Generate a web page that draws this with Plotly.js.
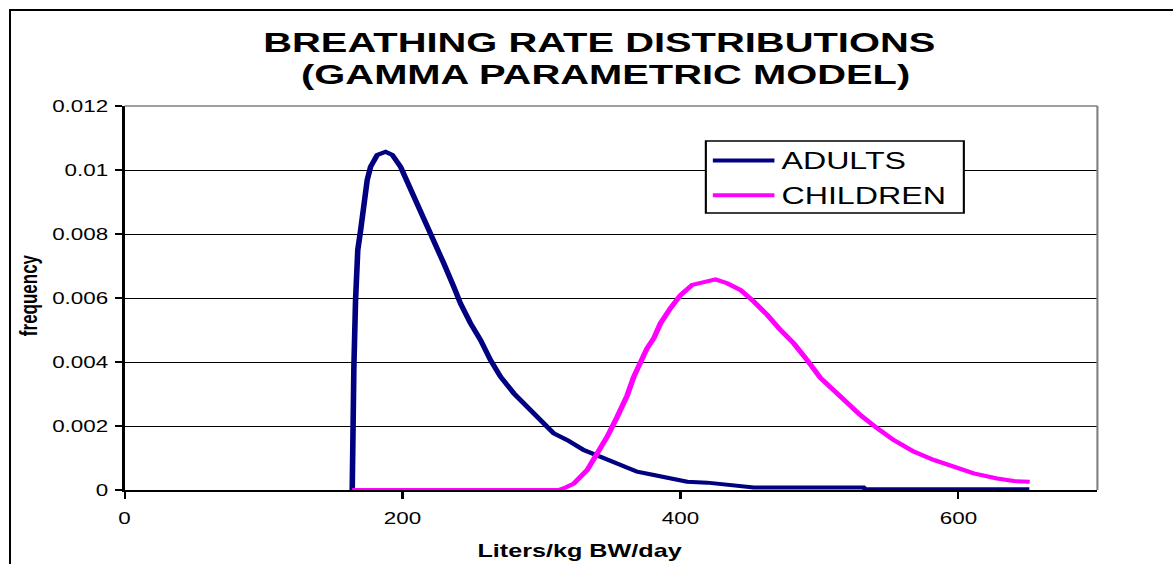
<!DOCTYPE html>
<html>
<head>
<meta charset="utf-8">
<script src="https://cdn.plot.ly/plotly-3.0.1.min.js"></script>
<style>
  html, body { margin:0; padding:0; overflow:hidden; background:#fff; width:1173px; height:564px; }
  #wrap { position:absolute; left:0; top:0; width:838px; height:564px; transform:scaleX(1.39976); transform-origin:0 0; }
  #plot { width:838px; height:564px; }
  #frame { position:absolute; left:9px; top:9px; width:3000px; height:3000px; border-left:2.5px solid #000; border-top:2.5px solid #000; pointer-events:none; }
</style>
</head>
<body>
<div id="wrap"><div id="plot"></div></div>
<div id="frame"></div>
<script>
// ---- data ----
const adultsX = [163.8,163.9,165.0,166.2,167.8,169.8,172.2,174.6,177.0,181.8,187.8,192.6,198.6,205.8,213.0,220.1,229.7,236.9,241.7,248.9,256.1,263.3,270.5,280.1,289.7,299.3,308.8,318.5,330.4,342.4,354.5,368.8,380.8,392.8,404.8,419.2,436.8,452.7,492.0,531.7,533.0,651.0];
const adultsY = [0,0.0019,0.00385,0.00594,0.0075,0.0081,0.00885,0.00969,0.0101,0.01047,0.01057,0.01047,0.0101,0.0094,0.00875,0.0081,0.00708,0.00635,0.00583,0.00521,0.00469,0.00406,0.00354,0.00302,0.0026,0.00219,0.00177,0.00156,0.00125,0.00104,0.00083,0.00057,0.00047,0.00036,0.00026,0.00023,0.00016,0.00008,0.00008,0.00008,0.00002,0.00002];

const childrenX = [163.8,312.0,316.0,323.2,332.9,340.1,347.3,354.5,361.6,366.4,371.2,376.0,380.8,385.6,392.8,400.0,408.4,416.8,425.2,433.6,443.2,452.7,462.4,471.9,481.5,491.1,500.7,515.1,529.5,541.5,553.4,567.8,582.2,596.6,611.0,627.8,639.8,651.3];
const childrenY = [0,0,0.00005,0.0002,0.000625,0.00115,0.00167,0.00229,0.00295,0.00354,0.00396,0.00443,0.00474,0.00521,0.00568,0.00609,0.00641,0.00651,0.00658,0.00646,0.00625,0.00589,0.00547,0.005,0.00458,0.00406,0.0035,0.00292,0.00234,0.00193,0.00156,0.0012,0.00094,0.00073,0.00052,0.00036,0.00028,0.00026];

const seriesNames = ['ADULTS', 'CHILDREN'];
const yTickVals = [0, 0.002, 0.004, 0.006, 0.008, 0.01, 0.012];
const yTickText = ['0', '0.002', '0.004', '0.006', '0.008', '0.01', '0.012'];
const xTickVals = [0, 200, 400, 600];
const xTickText = ['0', '200', '400', '600'];
const titleLines = ['BREATHING RATE DISTRIBUTIONS', '(GAMMA PARAMETRIC MODEL)'];
const xTitle = 'Liters/kg BW/day';
const yTitle = 'frequency';

const FONT = 'Liberation Sans, Arial, sans-serif';

const traces = [
  { x: adultsX, y: adultsY, name: seriesNames[0], type: 'scatter', mode: 'lines',
    line: { color: '#000080', width: 4 }, legendgroup: 'a' },
  { x: childrenX, y: childrenY, name: seriesNames[1], type: 'scatter', mode: 'lines',
    line: { color: '#FF00FF', width: 4 }, legendgroup: 'c' }
];

const layout = {
  width: 838, height: 564,
  margin: { l: 89, r: 54, t: 106, b: 74 },
  paper_bgcolor: '#fff', plot_bgcolor: '#fff',
  font: { family: FONT, color: '#000' },
  showlegend: true,
  legend: {
    x: 0.5975, y: 0.914, xanchor: 'left', yanchor: 'top',
    bgcolor: 'rgba(0,0,0,0)', bordercolor: 'rgba(0,0,0,0)', borderwidth: 0,
    font: { family: FONT, size: 23, color: '#000' },
    traceorder: 'grouped', tracegroupgap: 2, itemwidth: 44
  },
  xaxis: {
    range: [0, 700], tickmode: 'array', tickvals: xTickVals, ticktext: xTickText,
    ticks: 'outside', ticklen: 7, tickwidth: 1.5, tickcolor: '#000',
    ticklabelstandoff: 6,
    showline: true, linecolor: '#000', linewidth: 1.5,
    showgrid: false, zeroline: false,
    tickfont: { family: FONT, size: 16, color: '#000' }
  },
  yaxis: {
    range: [0, 0.012], tickmode: 'array', tickvals: yTickVals, ticktext: yTickText,
    ticks: 'outside', ticklen: 5, tickwidth: 1.3, tickcolor: '#000',
    ticklabelstandoff: 2,
    showline: true, linecolor: '#000', linewidth: 1.5,
    showgrid: true, gridcolor: '#000', gridwidth: 1, zeroline: false,
    tickfont: { family: FONT, size: 16, color: '#000' }
  },
  shapes: [
    { type: 'line', xref: 'paper', yref: 'paper', x0: 0, x1: 1, y0: 1, y1: 1,
      line: { color: '#808080', width: 1.5 }, layer: 'above' },
    { type: 'line', xref: 'paper', yref: 'paper', x0: 1, x1: 1, y0: 0, y1: 1,
      line: { color: '#808080', width: 1.5 }, layer: 'above' },
    // legend frame
    { type: 'rect', xref: 'paper', yref: 'paper', x0: 0.5975, x1: 0.8627, y0: 0.7214, y1: 0.9089,
      fillcolor: '#fff', line: { color: '#000', width: 1.5 }, layer: 'above' }
  ],
  annotations: [
    { text: '<b>' + titleLines[0] + '</b>', xref: 'paper', yref: 'paper', x: 0.4877, y: 1.2135,
      xanchor: 'center', yanchor: 'top', showarrow: false,
      font: { family: FONT, size: 28.5, color: '#000' } },
    { text: '<b>' + titleLines[1] + '</b>', xref: 'paper', yref: 'paper', x: 0.494, y: 1.131,
      xanchor: 'center', yanchor: 'top', showarrow: false,
      font: { family: FONT, size: 28.5, color: '#000' } },
    { text: '<b>' + xTitle + '</b>', xref: 'paper', yref: 'paper', x: 0.468, y: -0.128,
      xanchor: 'center', yanchor: 'top', showarrow: false,
      font: { family: FONT, size: 18, color: '#000' } },
    { text: '<b>' + yTitle + '</b>', xref: 'paper', yref: 'paper', x: -0.0975, y: 0.508,
      xanchor: 'center', yanchor: 'middle', showarrow: false, textangle: -90,
      font: { family: FONT, size: 17, color: '#000' } }
  ]
};

Plotly.newPlot('plot', traces, layout, { staticPlot: true, displayModeBar: false });
</script>
</body>
</html>
